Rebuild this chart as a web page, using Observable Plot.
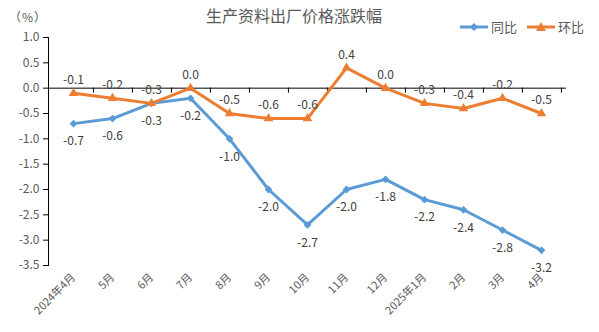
<!DOCTYPE html>
<html>
<head>
<meta charset="utf-8">
<script src="https://cdn.jsdelivr.net/npm/d3@7"></script>
<script src="https://cdn.jsdelivr.net/npm/@observablehq/plot@0.6"></script>
<style>
  body { margin: 0; background: #fff; }
  #wrap { position: relative; width: 599px; height: 332px; font-family: "Noto Sans CJK SC", "Noto Sans", sans-serif; }
  #title { position: absolute; left: 0; width: 588px; top: 4px; text-align: center; font-size: 16px; line-height: 22px; color: #595959; }
  #unit { position: absolute; left: 9px; top: 8px; font-size: 12px; line-height: 18px; color: #595959; letter-spacing: 1px; }
  #legend { position: absolute; left: 460px; top: 18px; font-size: 13px; line-height: 18px; color: #595959; display: flex; align-items: center; }
  #legend .item { display: flex; align-items: center; margin-right: 10px; }
  #legend svg { margin-right: 3px; }
  #chart { position: absolute; left: 0; top: 0; }
</style>
</head>
<body>
<div id="wrap">
  <div id="chart"></div>
  <div id="title">生产资料出厂价格涨跌幅</div>
  <div id="unit">（%）</div>
  <div id="legend">
    <span class="item"><svg width="28" height="10"><line x1="0" y1="5" x2="28" y2="5" stroke="#5B9BD5" stroke-width="3"/><path d="M14 1 L18 5 L14 9 L10 5 Z" fill="#5B9BD5"/></svg>同比</span>
    <span class="item"><svg width="28" height="10"><line x1="0" y1="5" x2="28" y2="5" stroke="#ED7D31" stroke-width="3"/><path d="M14 0 L19 9 L9 9 Z" fill="#ED7D31"/></svg>环比</span>
  </div>
</div>
<script>
const months = ["2024年4月","5月","6月","7月","8月","9月","10月","11月","12月","2025年1月","2月","3月","4月"];
const yoy = [-0.7, -0.6, -0.3, -0.2, -1.0, -2.0, -2.7, -2.0, -1.8, -2.2, -2.4, -2.8, -3.2];
const mom = [-0.1, -0.2, -0.3, 0.0, -0.5, -0.6, -0.6, 0.4, 0.0, -0.3, -0.4, -0.2, -0.5];
const yTicks = [1.0, 0.5, 0.0, -0.5, -1.0, -1.5, -2.0, -2.5, -3.0, -3.5];

const data = months.map((m, i) => ({month: m, yoy: yoy[i], mom: mom[i]}));

const W = 599, H = 332, ML = 48, MR = 33, MT = 37, MB = 67;
const halfStep = (W - ML - MR) / months.length / 2;
const blue = "#5B9BD5", orange = "#ED7D31";
const font = "'Noto Sans CJK SC', 'Noto Sans', sans-serif";

const chart = Plot.plot({
  width: W, height: H,
  marginTop: MT, marginBottom: MB, marginLeft: ML, marginRight: MR,
  style: {fontFamily: font, fontSize: "12px", color: "#595959", background: "transparent"},
  x: {type: "point", domain: months, padding: 0.5, label: null},
  y: {domain: [-3.5, 1], label: null},
  marks: [
    Plot.frame({anchor: "left", stroke: "black"}),
    Plot.ruleY([0], {stroke: "black", strokeWidth: 1}),
    Plot.ruleX(months, {x: d => d, y1: 0, y2: 0, dx: halfStep, insetBottom: -5, stroke: "black"}),
    Plot.axisY({ticks: yTicks, tickFormat: d => d.toFixed(1), tickSize: 5, tickPadding: 4, stroke: "black", fill: "#595959", fontSize: 12}),
    Plot.axisX({anchor: "bottom", tickRotate: -45, tickSize: 0, tickPadding: 10, fill: "#595959", fontSize: 11}),
    Plot.line(data, {x: "month", y: "yoy", stroke: blue, strokeWidth: 3}),
    Plot.line(data, {x: "month", y: "mom", stroke: orange, strokeWidth: 3}),
    Plot.dot(data, {x: "month", y: "yoy", symbol: "diamond2", r: 3.5, fill: blue, stroke: null}),
    Plot.dot(data, {x: "month", y: "mom", symbol: "triangle2", r: 4.5, fill: orange, stroke: null}),
    Plot.text(data, {x: "month", y: "yoy", text: d => d.yoy.toFixed(1), dy: 18, fill: "#404040", fontSize: 12}),
    Plot.text(data, {x: "month", y: "mom", text: d => d.mom.toFixed(1), dy: -13, fill: "#404040", fontSize: 12})
  ]
});
document.getElementById("chart").appendChild(chart);
</script>
</body>
</html>
